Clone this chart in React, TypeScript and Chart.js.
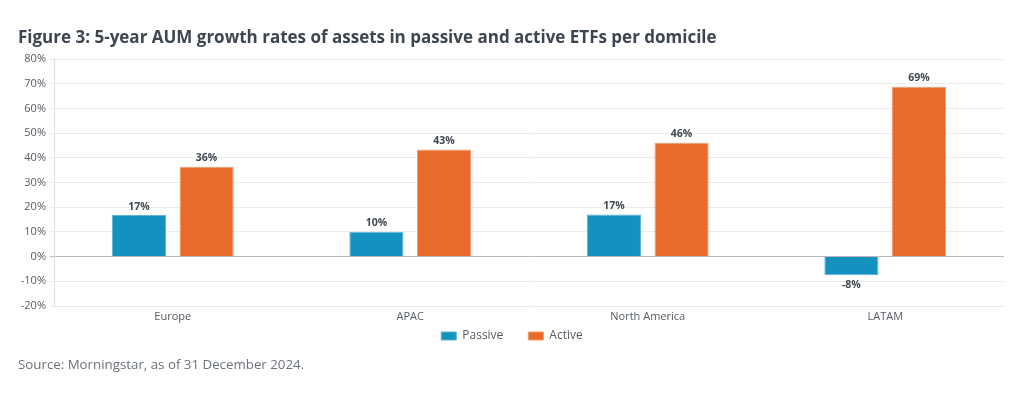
import React, { useEffect, useRef } from "react";
import { Chart, registerables } from "chart.js";

Chart.register(...registerables);

const categories = ["Europe", "APAC", "North America", "LATAM"];
const passiveValues = [16.8, 10.1, 17.0, -7.6];
const activeValues = [36.4, 43.4, 46.1, 68.8];
const yTickMin = -20;
const yTickMax = 80;
const yTickStep = 10;

const FONT = "'Open Sans', 'Noto Sans', sans-serif";
const LEGEND_SHIFT_Y = -19;
const LEGEND_SHIFT_X = 10;

const dataLabelPlugin = {
  id: "dataLabels",
  afterDatasetsDraw(chart: any) {
    const ctx = chart.ctx;
    ctx.save();
    ctx.font = `bold 10.5px ${FONT}`;
    ctx.fillStyle = "#3f4751";
    ctx.textAlign = "center";
    chart.data.datasets.forEach((ds: any, di: number) => {
      const meta = chart.getDatasetMeta(di);
      meta.data.forEach((bar: any, i: number) => {
        const v = ds.data[i];
        const label = Math.round(v) + "%";
        if (v >= 0) {
          ctx.textBaseline = "bottom";
          ctx.fillText(label, bar.x, bar.y - 3);
        } else {
          ctx.textBaseline = "top";
          ctx.fillText(label, bar.x, bar.y + 4);
        }
      });
    });
    ctx.restore();
  },
};

const legendShiftPlugin = {
  id: "legendShift",
  afterLayout(chart: any) {
    const lg = chart.legend;
    if (lg) {
      lg.top += LEGEND_SHIFT_Y;
      lg.bottom += LEGEND_SHIFT_Y;
      lg.left += LEGEND_SHIFT_X;
      lg.right += LEGEND_SHIFT_X;
    }
  },
};

export default function App() {
  const canvasRef = useRef<HTMLCanvasElement | null>(null);

  useEffect(() => {
    if (!canvasRef.current) return;
    const chart = new Chart(canvasRef.current, {
      type: "bar",
      data: {
        labels: categories,
        datasets: [
          {
            label: "Passive",
            data: passiveValues,
            backgroundColor: "#1591bf",
            borderColor: "#5bb3d6",
            borderWidth: 1,
            categoryPercentage: 0.57,
            barPercentage: 0.8,
          },
          {
            label: "Active",
            data: activeValues,
            backgroundColor: "#e96a2b",
            borderColor: "#f09a6e",
            borderWidth: 1,
            categoryPercentage: 0.57,
            barPercentage: 0.8,
          },
        ],
      },
      options: {
        animation: false,
        responsive: false,
        maintainAspectRatio: false,
        layout: { padding: { top: 59, left: 0, right: 20, bottom: 28 } },
        plugins: {
          legend: {
            position: "bottom",
            labels: {
              boxWidth: 15,
              boxHeight: 8,
              padding: 25,
              color: "#555b63",
              font: { family: FONT, size: 12 },
            },
          },
          tooltip: { enabled: false },
        },
        scales: {
          x: {
            grid: { display: false },
            border: { display: false },
            ticks: {
              color: "#555b63",
              font: { family: FONT, size: 11 },
              padding: -4,
            },
            afterFit(scale: any) {
              scale.height = 18;
            },
          },
          y: {
            min: yTickMin,
            max: yTickMax,
            ticks: {
              stepSize: yTickStep,
              color: "#555b63",
              font: { family: FONT, size: 11 },
              padding: 4,
              callback: (v: any) => v + "%",
            },
            grid: {
              color: (c: any) => (c.tick && c.tick.value === 0 ? "#b8b8b8" : "#ececec"),
              lineWidth: 1,
              tickLength: 4,
            },
            border: { color: "#dcdde3", width: 1 },
            afterFit(scale: any) {
              scale.width = 54;
            },
          },
        },
      },
      plugins: [dataLabelPlugin, legendShiftPlugin],
    } as any);
    return () => chart.destroy();
  }, []);

  return (
    <div style={{ position: "absolute", left: 0, top: 0, width: 1024, height: 399, background: "#fff", overflow: "hidden" }}>
      <canvas ref={canvasRef} width={1024} height={399} style={{ position: "absolute", left: 0, top: 0 }} />
      <div
        style={{
          position: "absolute",
          left: 18,
          top: 25,
          fontFamily: FONT,
          fontWeight: 700,
          fontSize: 17,
          color: "#3d4650",
          whiteSpace: "nowrap",
        }}
      >
        Figure 3: 5-year AUM growth rates of assets in passive and active ETFs per domicile
      </div>
      <div
        style={{
          position: "absolute",
          left: 18,
          top: 355,
          fontFamily: FONT,
          fontSize: 13.3,
          color: "#6b717a",
          whiteSpace: "nowrap",
        }}
      >
        Source: Morningstar, as of 31 December 2024.
      </div>
    </div>
  );
}
